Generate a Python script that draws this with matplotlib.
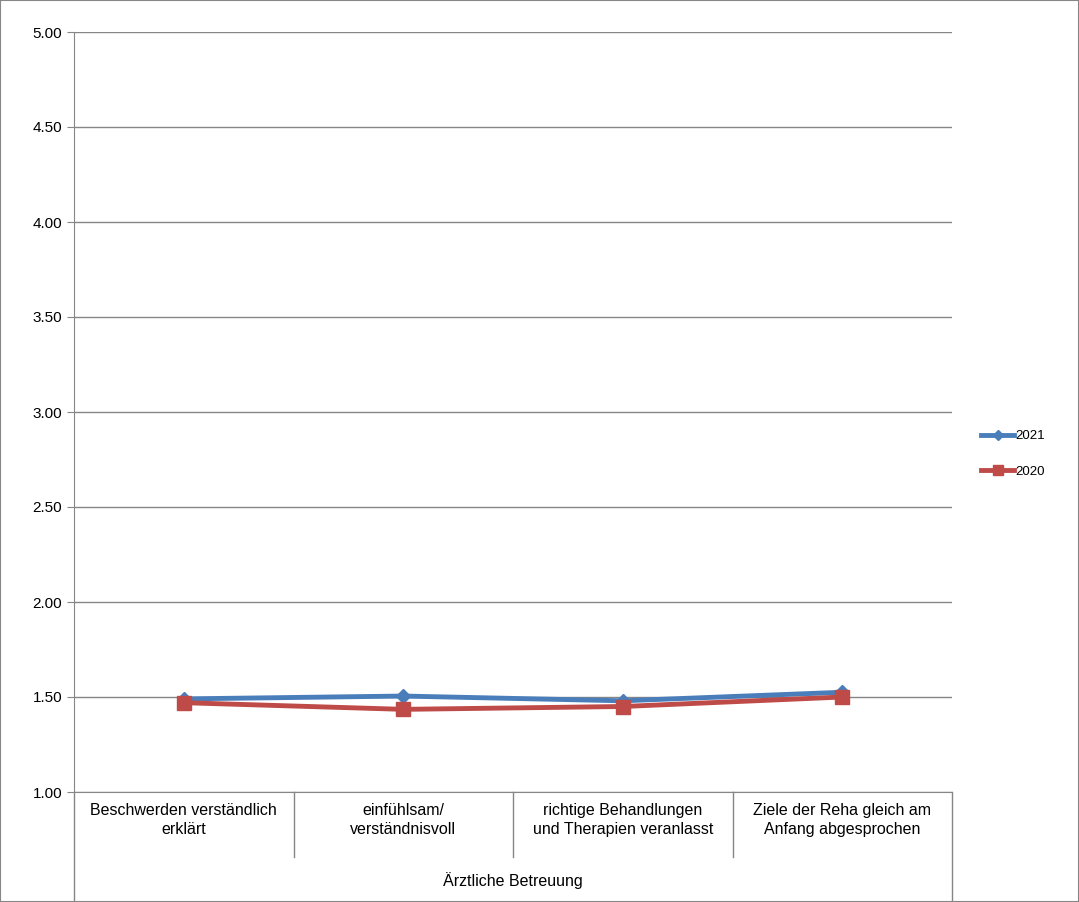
import matplotlib
matplotlib.use("Agg")
import matplotlib.pyplot as plt
from matplotlib.lines import Line2D

categories = ["Beschwerden verständlich\nerklärt", "einfühlsam/\nverständnisvoll",
              "richtige Behandlungen\nund Therapien veranlasst", "Ziele der Reha gleich am\nAnfang abgesprochen"]
group = "Ärztliche Betreuung"
v2021 = [1.49, 1.505, 1.48, 1.525]
v2020 = [1.47, 1.435, 1.45, 1.50]
yticks = [1.0, 1.5, 2.0, 2.5, 3.0, 3.5, 4.0, 4.5, 5.0]

plt.rc('font', family='Liberation Sans', size=11)
fig = plt.figure(figsize=(10.79, 9.02), dpi=100)
W, H = 1079, 902
x0, x1, y0, y1 = 74, 952, 32, 792
ax = fig.add_axes([x0 / W, 1 - y1 / H, (x1 - x0) / W, (y1 - y0) / H])
xs = range(len(categories))
ax.plot(xs, v2021, color='#4a7ebb', lw=3.5, marker='D', ms=7, label='2021')
ax.plot(xs, v2020, color='#be4b48', lw=3.5, marker='s', ms=10, label='2020')
ax.set_xlim(-0.5, len(categories) - 0.5)
ax.set_ylim(1, 5)
ax.set_yticks(yticks)
ax.set_yticklabels(['%.2f' % t for t in yticks])
ax.yaxis.grid(True, color='#868686', lw=1)
ax.set_axisbelow(True)
for s in ['top', 'right']:
    ax.spines[s].set_visible(False)
ax.spines['left'].set_color('#868686')
ax.spines['bottom'].set_color('#868686')
ax.tick_params(axis='y', length=5, color='#868686')
ax.tick_params(axis='x', length=0, labelbottom=False)

# multi-level category labels
trans = ax.get_xaxis_transform()
for i, c in enumerate(categories):
    ax.text(i, -0.015, c, transform=trans, ha='center', va='top', fontsize=11.5, linespacing=1.3)
for b in [0.5, 1.5, 2.5]:
    ax.add_line(Line2D([b, b], [0, -65 / 760], transform=trans, color='#868686', lw=1, clip_on=False))
for b in [-0.5, 3.5]:
    ax.add_line(Line2D([b, b], [0, -108 / 760], transform=trans, color='#868686', lw=1, clip_on=False))
ax.text(1.5, -80 / 760, group, transform=trans, ha='center', va='top', fontsize=11.5)

leg = ax.legend(loc='center left', bbox_to_anchor=(1.02, 0.445), frameon=False, fontsize=9.5,
                handlelength=2.5, handletextpad=0.1, labelspacing=1.75, markerscale=0.7)
fig.patches.append(matplotlib.patches.Rectangle((0, 0), 1, 1, transform=fig.transFigure,
                                                fill=False, edgecolor='#868686', lw=1.5))
fig.savefig("out.png", dpi=100)
